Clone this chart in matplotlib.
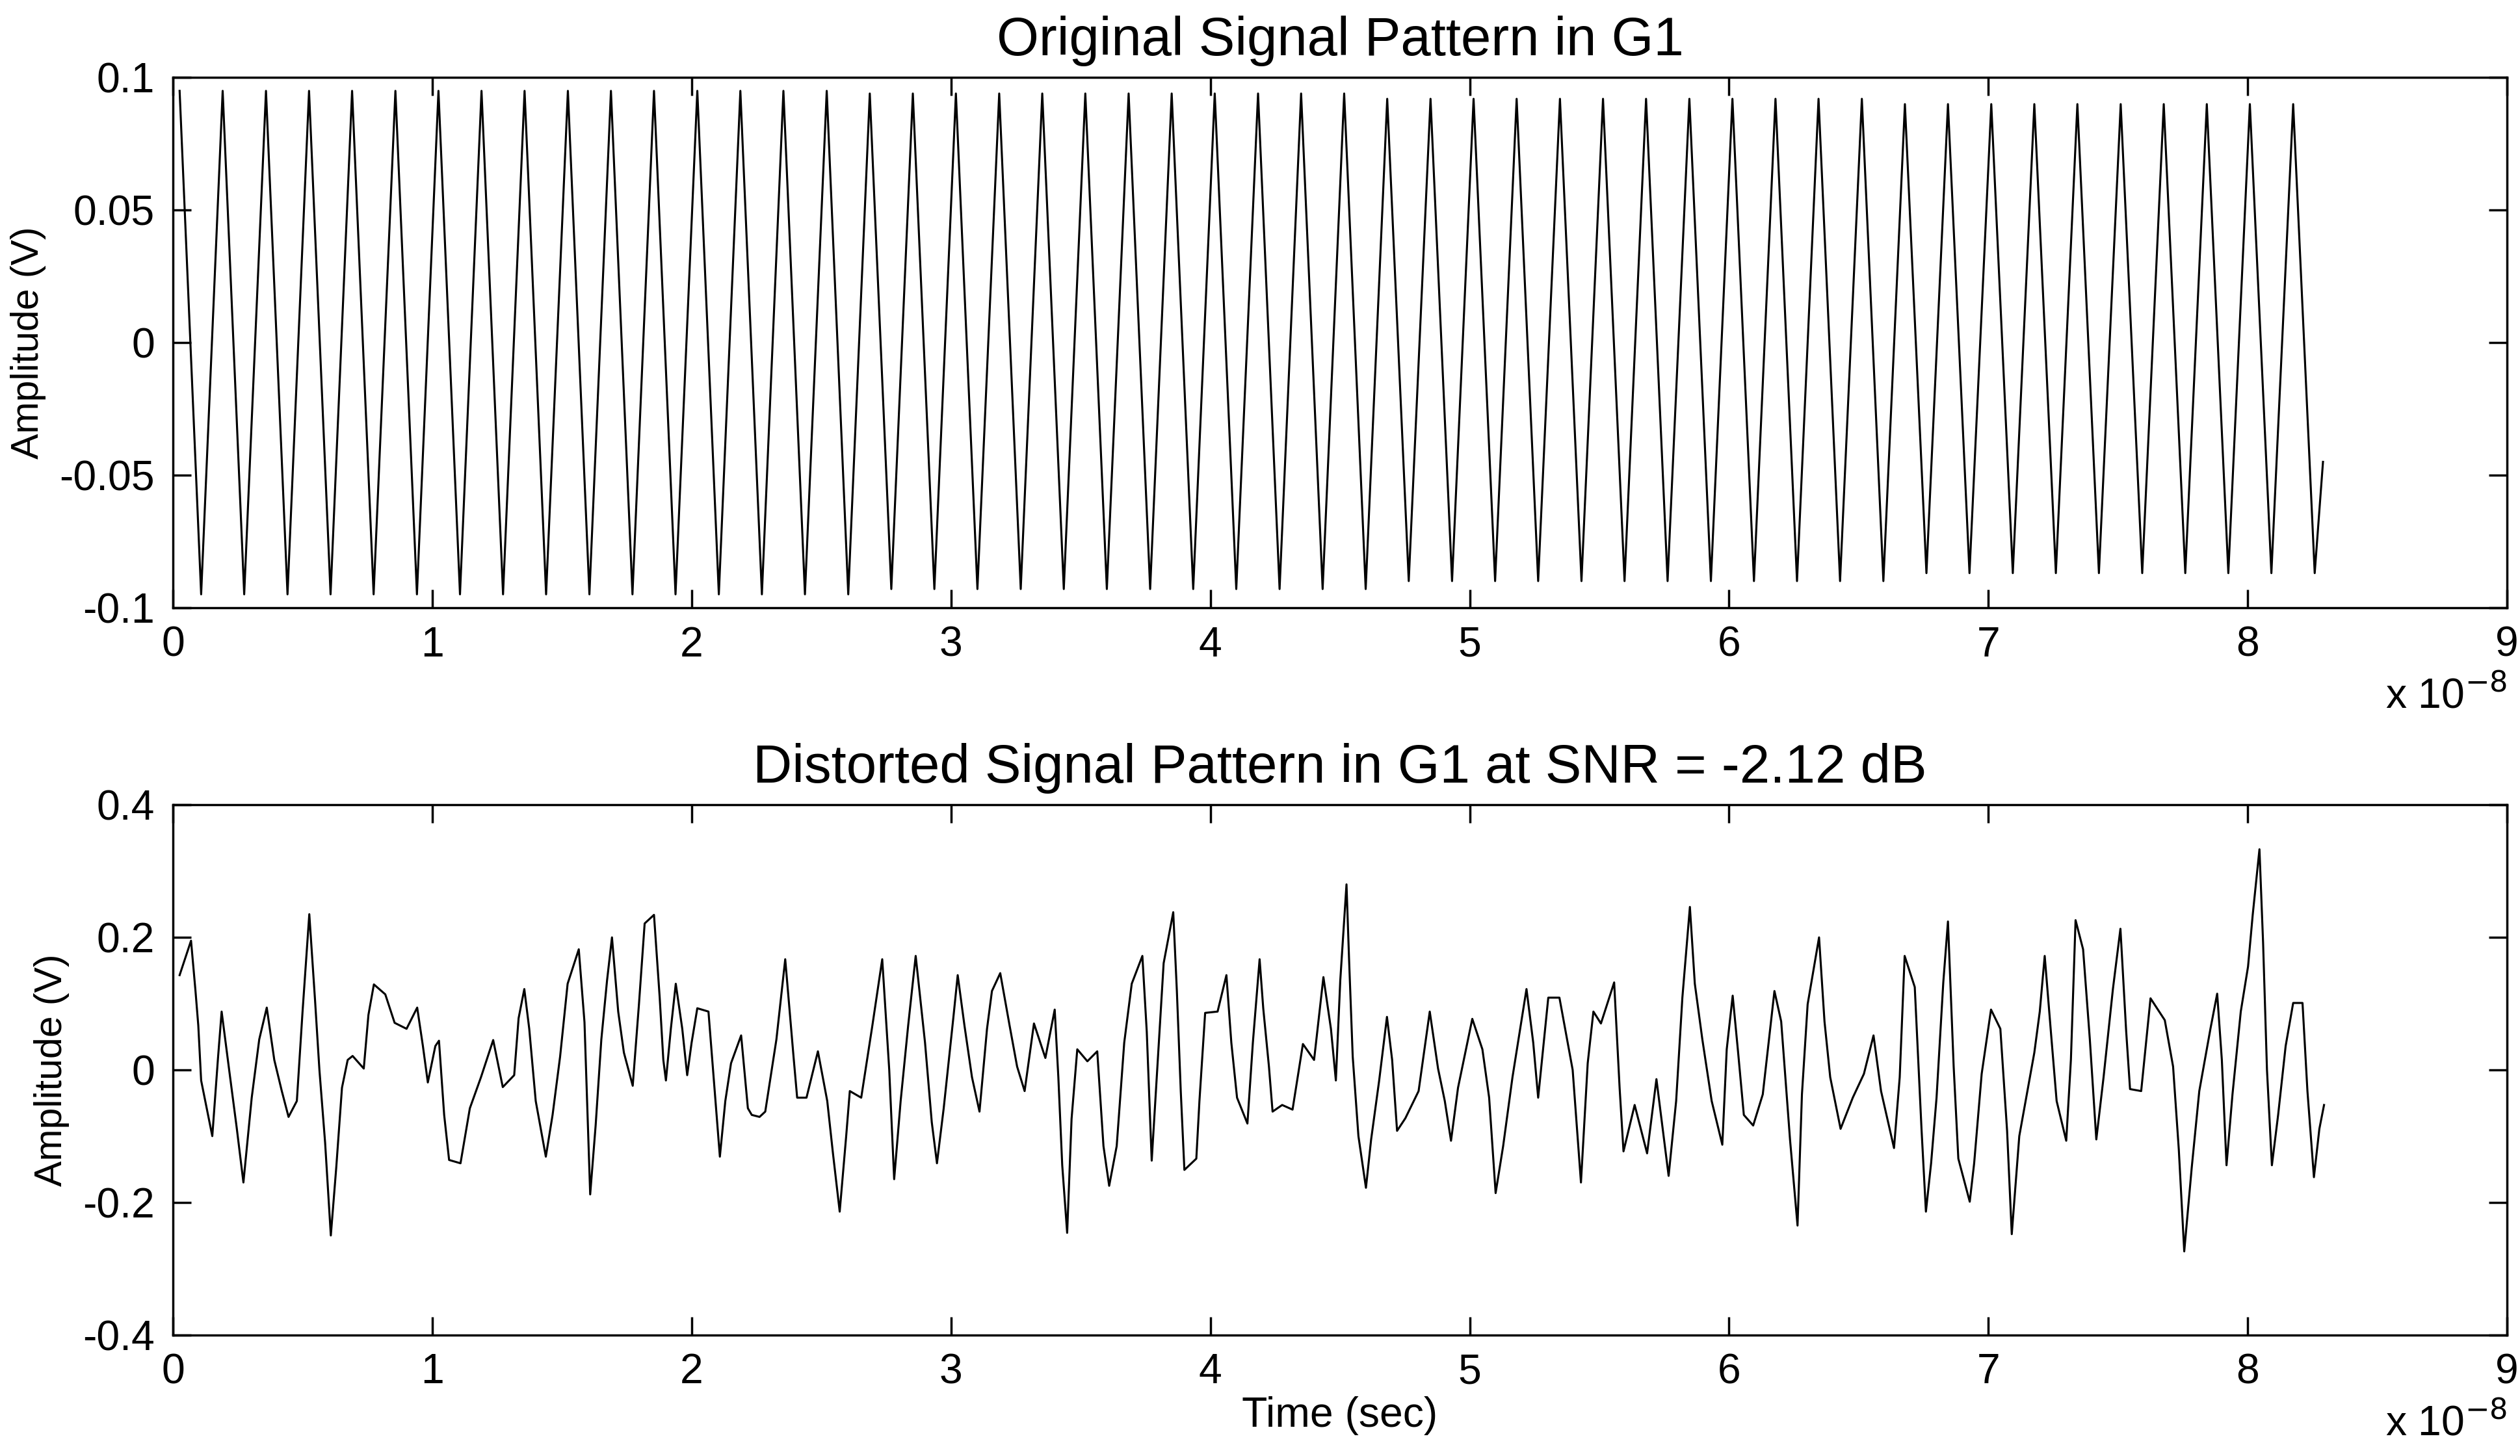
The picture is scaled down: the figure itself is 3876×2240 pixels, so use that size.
import matplotlib
matplotlib.use("Agg")
import matplotlib.pyplot as plt

plt.rcParams['font.family'] = ['Liberation Sans', 'DejaVu Sans']

# ---- Top: original signal (peak/trough times in units of 1e-8 s) ----
peak_t = [0.026,0.192,0.359,0.525,0.691,0.858,1.024,1.190,1.356,1.523,1.689,1.855,2.022,2.188,
          2.354,2.521,2.687,2.853,3.019,3.186,3.352,3.518,3.685,3.851,4.017,4.184,4.350,4.516,
          4.682,4.849,5.015,5.181,5.348,5.514,5.680,5.847,6.013,6.179,6.345,6.512,6.678,6.844,
          7.011,7.177,7.343,7.510,7.676,7.842,8.008,8.175]
peak_v = [0.095]*16 + [0.094]*12 + [0.092]*12 + [0.090]*10
trough_t = [0.109,0.275,0.442,0.608,0.774,0.941,1.107,1.273,1.439,1.606,1.772,1.938,2.105,2.271,
            2.437,2.604,2.770,2.936,3.102,3.269,3.435,3.601,3.768,3.934,4.100,4.267,4.433,4.599,
            4.765,4.932,5.098,5.264,5.431,5.597,5.763,5.930,6.096,6.262,6.428,6.595,6.761,6.927,
            7.094,7.260,7.426,7.593,7.759,7.925,8.091,8.258]
trough_v = [-0.095]*16 + [-0.093]*12 + [-0.090]*12 + [-0.087]*10
end_t, end_v = 8.29, -0.045

# ---- Bottom: distorted signal ----
dist_t = [0.026,0.07,0.087,0.098,0.109,0.152,0.174,0.188,0.217,0.246,0.272,0.304,0.333,0.362,0.391,0.42,0.446,
          0.478,0.5,0.526,0.548,0.565,0.587,0.609,0.63,0.652,0.674,0.693,0.736,0.754,0.775,0.819,0.855,
          0.901,0.942,0.964,0.983,1.012,1.026,1.046,1.065,1.109,1.145,1.188,1.235,1.272,1.316,1.333,1.355,
          1.374,1.399,1.438,1.464,1.493,1.522,1.565,1.587,1.609,1.63,1.652,1.674,1.693,1.717,1.739,1.773,
          1.797,1.819,1.855,1.877,1.891,1.901,1.92,1.939,1.964,1.983,2.0,2.022,2.065,2.087,2.109,2.13,
          2.152,2.191,2.217,2.232,2.262,2.284,2.327,2.361,2.393,2.407,2.443,2.487,2.523,2.545,2.571,2.596,
          2.61,2.654,2.697,2.735,2.762,2.781,2.806,2.835,2.864,2.9,2.926,2.946,2.972,3.009,3.026,3.052,
          3.081,3.11,3.139,3.158,3.19,3.226,3.255,3.284,3.32,3.364,3.4,3.414,3.429,3.448,3.465,3.487,
          3.526,3.564,3.588,3.61,3.639,3.668,3.697,3.738,3.755,3.774,3.796,3.82,3.857,3.871,3.886,3.9,
          3.946,3.958,3.98,4.028,4.062,4.081,4.103,4.143,4.164,4.19,4.204,4.226,4.24,4.277,4.317,4.357,
          4.4,4.436,4.465,4.484,4.501,4.525,4.535,4.549,4.571,4.6,4.62,4.651,4.681,4.701,4.72,4.752,
          4.803,4.846,4.878,4.904,4.928,4.955,5.01,5.049,5.075,5.1,5.129,5.165,5.219,5.245,5.264,5.303,
          5.346,5.397,5.429,5.455,5.477,5.506,5.557,5.578,5.593,5.636,5.684,5.72,5.767,5.796,5.82,5.849,
          5.868,5.897,5.933,5.974,5.991,6.014,6.035,6.057,6.093,6.13,6.175,6.201,6.235,6.264,6.281,6.303,
          6.347,6.368,6.39,6.43,6.477,6.52,6.557,6.586,6.636,6.658,6.677,6.716,6.742,6.759,6.779,6.8,
          6.826,6.844,6.866,6.884,6.928,6.945,6.974,7.01,7.046,7.072,7.09,7.119,7.148,7.177,7.198,7.217,
          7.242,7.263,7.3,7.318,7.336,7.365,7.391,7.416,7.444,7.48,7.509,7.531,7.546,7.589,7.625,7.68,
          7.712,7.734,7.755,7.784,7.813,7.856,7.882,7.9,7.918,7.941,7.973,8.001,8.019,8.045,8.059,8.074,
          8.093,8.117,8.146,8.175,8.211,8.23,8.255,8.276,8.294]
dist_v = [0.143,0.195,0.12,0.067,-0.016,-0.1,0.018,0.088,0.0,-0.087,-0.17,-0.042,0.046,0.094,0.015,-0.032,-0.071,
          -0.047,0.088,0.235,0.106,0.0,-0.11,-0.25,-0.147,-0.027,0.015,0.021,0.002,0.083,0.129,0.114,0.071,
          0.062,0.094,0.036,-0.019,0.036,0.044,-0.068,-0.136,-0.141,-0.058,-0.011,0.045,-0.026,-0.008,0.078,0.122,
          0.062,-0.047,-0.131,-0.068,0.02,0.13,0.182,0.072,-0.188,-0.084,0.046,0.135,0.2,0.088,0.026,-0.024,
          0.099,0.221,0.234,0.109,0.015,-0.016,0.062,0.13,0.062,-0.008,0.041,0.093,0.088,-0.021,-0.131,-0.047,
          0.01,0.052,-0.058,-0.068,-0.071,-0.063,0.046,0.167,0.02,-0.042,-0.042,0.028,-0.047,-0.126,-0.214,-0.1,
          -0.032,-0.042,0.067,0.167,0.0,-0.165,-0.047,0.067,0.172,0.041,-0.079,-0.141,-0.058,0.078,0.143,0.067,
          -0.011,-0.063,0.062,0.119,0.146,0.067,0.005,-0.032,0.07,0.018,0.091,-0.011,-0.144,-0.246,-0.074,0.031,
          0.013,0.028,-0.115,-0.175,-0.115,0.041,0.13,0.172,0.057,-0.137,0.005,0.161,0.238,0.119,-0.032,-0.151,
          -0.134,-0.047,0.086,0.088,0.143,0.041,-0.042,-0.081,0.041,0.167,0.093,0.005,-0.063,-0.053,-0.06,0.039,
          0.015,0.14,0.062,-0.016,0.135,0.28,0.166,0.02,-0.1,-0.178,-0.105,-0.016,0.08,0.015,-0.092,-0.073,
          -0.032,0.088,0.002,-0.047,-0.107,-0.027,0.077,0.031,-0.042,-0.186,-0.115,-0.011,0.122,0.041,-0.042,0.109,
          0.109,0.0,-0.17,0.01,0.088,0.07,0.132,-0.027,-0.123,-0.053,-0.126,-0.014,-0.16,-0.047,0.109,0.246,
          0.13,0.046,-0.047,-0.113,0.031,0.112,0.026,-0.068,-0.084,-0.037,0.119,0.073,-0.105,-0.235,-0.037,0.099,
          0.2,0.073,-0.011,-0.089,-0.042,-0.006,0.052,-0.032,-0.118,-0.011,0.172,0.125,-0.089,-0.214,-0.141,-0.042,
          0.132,0.224,0.005,-0.134,-0.199,-0.141,-0.006,0.091,0.062,-0.092,-0.248,-0.1,-0.037,0.026,0.088,0.172,
          0.052,-0.047,-0.107,0.015,0.226,0.182,0.046,-0.105,-0.011,0.122,0.213,0.059,-0.029,-0.032,0.108,0.075,
          0.005,-0.12,-0.274,-0.147,-0.032,0.062,0.115,0.015,-0.144,-0.037,0.088,0.156,0.234,0.333,0.192,0.0,
          -0.144,-0.068,0.036,0.101,0.101,-0.032,-0.162,-0.089,-0.053]

top_t, top_v = [], []
for pt, pv, tt, tv in zip(peak_t, peak_v, trough_t, trough_v):
    top_t += [pt, tt]
    top_v += [pv, tv]
top_t.append(end_t); top_v.append(end_v)

fig = plt.figure(figsize=(15.504, 8.96), dpi=250)
ax1 = fig.add_axes([0.0686, 0.5827, 0.9263, 0.364])
ax2 = fig.add_axes([0.0686, 0.0832, 0.9263, 0.364])

ax1.plot(top_t, top_v, color='black', lw=0.9)
ax2.plot(dist_t, dist_v, color='black', lw=0.9)

ax1.set_ylim(-0.1, 0.1); ax1.set_yticks([-0.1, -0.05, 0, 0.05, 0.1])
ax1.set_yticklabels(['-0.1', '-0.05', '0', '0.05', '0.1'])
ax2.set_ylim(-0.4, 0.4); ax2.set_yticks([-0.4, -0.2, 0, 0.2, 0.4])
ax2.set_yticklabels(['-0.4', '-0.2', '0', '0.2', '0.4'])

for ax in (ax1, ax2):
    ax.set_xlim(0, 9)
    ax.set_xticks(range(10))
    ax.tick_params(direction='in', top=True, right=True, labelsize=18.5, length=8, width=1.0, pad=8)
    for s in ax.spines.values():
        s.set_linewidth(1.0)
    ax.set_ylabel('Amplitude (V)', fontsize=17, labelpad=6)
    ax.text(1.0, -0.13, r'x 10$^{-8}$', transform=ax.transAxes, ha='right', va='top', fontsize=18.5)

ax1.set_title('Original Signal Pattern in G1', fontsize=24, pad=10)
ax2.set_title('Distorted Signal Pattern in G1 at SNR = -2.12 dB', fontsize=24, pad=10)
ax2.set_xlabel('Time (sec)', fontsize=18.5, labelpad=2)

fig.savefig('out.png', dpi=250)
